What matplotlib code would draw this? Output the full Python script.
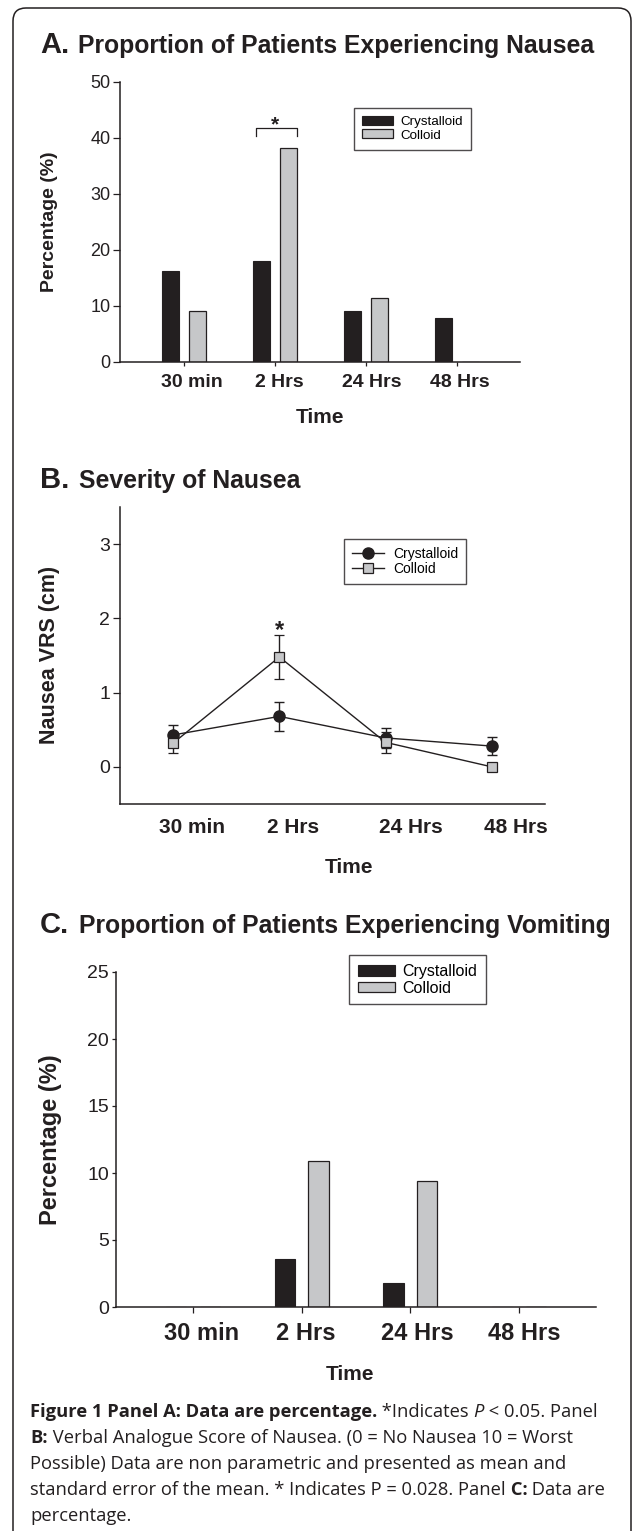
import matplotlib
matplotlib.use('Agg')
import numpy as np
import matplotlib.pyplot as plt
from matplotlib.patches import FancyBboxPatch, Patch
from matplotlib.lines import Line2D
from matplotlib.transforms import ScaledTranslation

plt.rcParams['font.family'] = ['Liberation Sans', 'DejaVu Sans']

DARK = '#231f20'
GREY = '#c6c7c9'

# ---- data ----
times = ['30 min', '2 Hrs', '24 Hrs', '48 Hrs']
series = ['Crystalloid', 'Colloid']

nausea_crystalloid = [16.2, 18.0, 9.1, 7.9]
nausea_colloid = [9.1, 38.2, 11.4, 0.0]

vrs_crystalloid = [0.43, 0.68, 0.39, 0.28]
vrs_crystalloid_se = [0.14, 0.20, 0.14, 0.12]
vrs_colloid = [0.32, 1.48, 0.33, 0.0]
vrs_colloid_se = [0.13, 0.30, 0.14, 0.0]

vomit_crystalloid = [0.0, 3.6, 1.8, 0.0]
vomit_colloid = [0.0, 10.9, 9.4, 0.0]

W, H = 632, 1531
fig = plt.figure(figsize=(W / 100, H / 100), dpi=100)


def fx(px):
    return px / W


def fy(py):
    return 1 - py / H


def axes_px(l, t, r, b):
    return fig.add_axes([fx(l), fy(b), (r - l) / W, (b - t) / H])


def style_axes(ax):
    for s in ['top', 'right']:
        ax.spines[s].set_visible(False)
    for s in ['left', 'bottom']:
        ax.spines[s].set_linewidth(1.1)
        ax.spines[s].set_color(DARK)
    ax.tick_params(direction='out', width=0.9, colors=DARK)


def shift_xlabels(ax, dx_px):
    for lab, dx in zip(ax.get_xticklabels(), dx_px):
        lab.set_transform(lab.get_transform() + ScaledTranslation(dx / 100, 0, fig.dpi_scale_trans))


# outer rounded frame
frame = FancyBboxPatch((0.13, -0.5), 6.18, 15.23 + 0.5,
                       boxstyle='round,pad=0,rounding_size=0.13',
                       transform=fig.dpi_scale_trans, fill=False, lw=1.1, ec=DARK)
fig.add_artist(frame)

x = np.arange(len(times))

# ---------------- Panel A ----------------
fig.text(fx(40), fy(53), 'A.', fontsize=21, fontweight='bold', color=DARK, va='baseline')
fig.text(fx(78), fy(53), 'Proportion of Patients Experiencing Nausea', fontsize=17.8,
         fontweight='bold', color=DARK, va='baseline')

axA = axes_px(120, 82, 520, 362)
style_axes(axA)
off, w = 0.15, 0.187
axA.bar(x - off, nausea_crystalloid, w, color=DARK, edgecolor=DARK, lw=0.8)
axA.bar(x + off, nausea_colloid, w, color=GREY, edgecolor=DARK, lw=0.9)
axA.set_xlim(-0.70, 3.69)
axA.set_ylim(0, 50)
axA.set_yticks(range(0, 51, 10))
axA.set_xticks(x, times, fontweight='bold', fontsize=14)
axA.tick_params(axis='y', length=5, labelsize=13, pad=2)
axA.tick_params(axis='x', length=3, pad=5.5)
shift_xlabels(axA, [8, 4, 6, 3])

# significance bracket at 2 Hrs
i = 1
yb = max(nausea_colloid) + 3.6
xl, xr = x[i] - 0.21, x[i] + off + w / 2
axA.plot([xl, xl, xr, xr], [yb - 1.5, yb, yb, yb - 1.5], color=DARK, lw=0.9, clip_on=False)
axA.text(x[i], yb - 0.4, '*', ha='center', va='baseline', fontsize=15, fontweight='bold', color=DARK)

handles = [Patch(facecolor=DARK, edgecolor=DARK, lw=0.8), Patch(facecolor=GREY, edgecolor=DARK, lw=0.9)]
legA = axA.legend(handles, series, loc='upper left', bbox_to_anchor=(fx(354), fy(108)),
                  bbox_transform=fig.transFigure, fontsize=9.6, frameon=True, fancybox=False,
                  edgecolor=DARK, borderpad=0.6, handlelength=2.33, handleheight=0.68,
                  handletextpad=0.53, labelspacing=0.08, borderaxespad=0)
legA.get_frame().set_linewidth(1.0)

fig.text(fx(50), fy(222), 'Percentage (%)', rotation=90, ha='center', va='center',
         fontsize=14, fontweight='bold', color=DARK)
fig.text(fx(320), fy(423), 'Time', ha='center', va='baseline', fontsize=15,
         fontweight='bold', color=DARK)

# ---------------- Panel B ----------------
fig.text(fx(40), fy(488), 'B.', fontsize=21, fontweight='bold', color=DARK, va='baseline')
fig.text(fx(79), fy(488), 'Severity of Nausea', fontsize=17.8, fontweight='bold',
         color=DARK, va='baseline')

axB = axes_px(120, 507, 545, 804)
style_axes(axB)
axB.errorbar(x, vrs_crystalloid, yerr=vrs_crystalloid_se, color=DARK, marker='o', ms=8,
             mfc=DARK, mec=DARK, lw=1, elinewidth=1, capsize=3.5, capthick=1)
axB.errorbar(x, vrs_colloid, yerr=vrs_colloid_se, color=DARK, marker='s', ms=6.5,
             mfc=GREY, mec=DARK, mew=0.9, lw=1, elinewidth=1, capsize=3.5, capthick=1)
axB.set_xlim(-0.5, 3.5)
axB.set_ylim(-0.5, 3.5)
axB.set_yticks([0, 1, 2, 3])
axB.set_xticks(x, times, fontweight='bold', fontsize=15)
axB.tick_params(axis='y', length=5, labelsize=14, pad=2)
axB.tick_params(axis='x', length=0, pad=10)
shift_xlabels(axB, [19, 14, 25, 24])

axB.text(x[1], vrs_colloid[1] + vrs_colloid_se[1] - 0.03, '*', ha='center', va='baseline',
         fontsize=17, fontweight='bold', color=DARK)

hB = [Line2D([], [], color=DARK, lw=1, marker='o', ms=8, mfc=DARK, mec=DARK),
      Line2D([], [], color=DARK, lw=1, marker='s', ms=6.5, mfc=GREY, mec=DARK, mew=0.9)]
legB = axB.legend(hB, series, loc='upper left', bbox_to_anchor=(fx(344), fy(539)),
                  bbox_transform=fig.transFigure, fontsize=10, frameon=True, fancybox=False,
                  edgecolor=DARK, borderpad=0.58, handlelength=2.3, handletextpad=0.65,
                  labelspacing=0.08, borderaxespad=0)
legB.get_frame().set_linewidth(1.0)

fig.text(fx(50), fy(655), 'Nausea VRS (cm)', rotation=90, ha='center', va='center',
         fontsize=15.5, fontweight='bold', color=DARK)
fig.text(fx(349), fy(873), 'Time', ha='center', va='baseline', fontsize=15,
         fontweight='bold', color=DARK)

# ---------------- Panel C ----------------
fig.text(fx(40), fy(933), 'C.', fontsize=21, fontweight='bold', color=DARK, va='baseline')
fig.text(fx(79), fy(933), 'Proportion of Patients Experiencing Vomiting', fontsize=17.8,
         fontweight='bold', color=DARK, va='baseline')

axC = axes_px(116, 972, 596, 1307)
style_axes(axC)
offc, wc = 0.155, 0.185
axC.bar(x - offc, vomit_crystalloid, wc, color=DARK, edgecolor=DARK, lw=0.8)
axC.bar(x + offc, vomit_colloid, wc, color=GREY, edgecolor=DARK, lw=0.9)
axC.set_xlim(-0.71, 3.71)
axC.set_ylim(0, 25)
axC.set_yticks(range(0, 26, 5))
axC.set_xticks(x, times, fontweight='bold', fontsize=17)
axC.tick_params(axis='y', length=3, labelsize=14, pad=2)
axC.tick_params(axis='x', length=4, pad=7)
shift_xlabels(axC, [8, 4, 7, 5])

hC = [Patch(facecolor=DARK, edgecolor=DARK, lw=0.8), Patch(facecolor=GREY, edgecolor=DARK, lw=0.9)]
legC = axC.legend(hC, series, loc='upper left', bbox_to_anchor=(fx(349), fy(955)),
                  bbox_transform=fig.transFigure, fontsize=11.5, frameon=True, fancybox=False,
                  edgecolor=DARK, borderpad=0.56, handlelength=2.3, handleheight=0.63,
                  handletextpad=0.5, labelspacing=0.1, borderaxespad=0)
legC.get_frame().set_linewidth(1.0)

fig.text(fx(51), fy(1140), 'Percentage (%)', rotation=90, ha='center', va='center',
         fontsize=17, fontweight='bold', color=DARK)
fig.text(fx(350), fy(1380), 'Time', ha='center', va='baseline', fontsize=15,
         fontweight='bold', color=DARK)

# ---------------- caption ----------------
ax_cap = fig.add_axes([0, 0, 1, 1])
ax_cap.axis('off')
cap_family = ['Open Sans', 'DejaVu Sans']
cap_fs = 13.2

cap_lines = [
    [('Figure 1 Panel A: Data are percentage.', 'bold'), (' *Indicates ', 'normal'),
     ('P', 'italic'), (' < 0.05. Panel', 'normal')],
    [('B:', 'bold'), (' Verbal Analogue Score of Nausea. (0 = No Nausea 10 = Worst', 'normal')],
    [('Possible) Data are non parametric and presented as mean and', 'normal')],
    [('standard error of the mean. * Indicates P = 0.028. Panel', 'normal'), (' C:', 'bold'),
     (' Data are', 'normal')],
    [('percentage.', 'normal')],
]
cap_baselines = [1417, 1443, 1469, 1495, 1521]

for parts, yb_px in zip(cap_lines, cap_baselines):
    prev = None
    for s, style in parts:
        kw = dict(fontsize=cap_fs, family=cap_family, color=DARK,
                  fontweight='bold' if style == 'bold' else 'normal',
                  fontstyle='italic' if style == 'italic' else 'normal')
        if prev is None:
            prev = ax_cap.text(fx(30), fy(yb_px), s, transform=fig.transFigure,
                               ha='left', va='baseline', **kw)
        else:
            prev = ax_cap.annotate(s, xy=(1, 0), xycoords=prev, ha='left', va='bottom', **kw)

fig.savefig('out.png', dpi=100)
